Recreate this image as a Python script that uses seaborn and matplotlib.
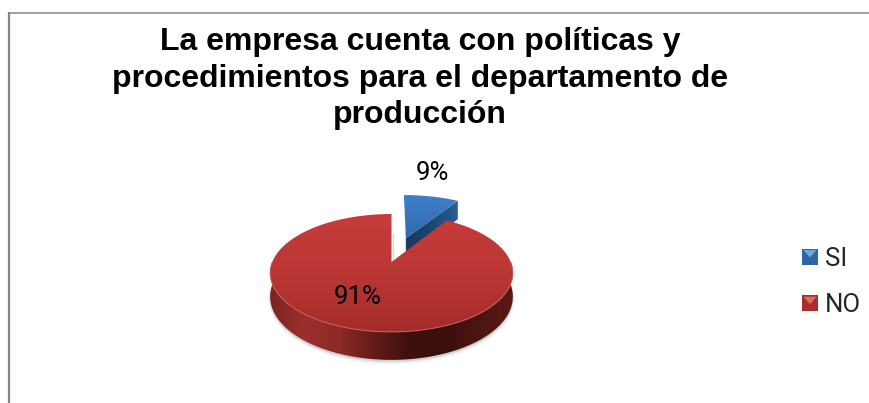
import numpy as np
import matplotlib
matplotlib.use("Agg")
import matplotlib.pyplot as plt
from matplotlib.legend_handler import HandlerBase
from matplotlib.patches import Patch, Polygon, Rectangle
from matplotlib.colors import LinearSegmentedColormap
import seaborn as sns

categories = ["SI", "NO"]
shares = [9, 91]
title_lines = ["La empresa cuenta con políticas y",
               "procedimientos para el departamento de",
               "producción"]

sns.set_theme(style="white")
plt.rcParams["font.family"] = ["Roboto", "DejaVu Sans"]

W, H = 870, 403
APEX_X, APEX_Y = 391.5, 262.0
SCALE_X, SCALE_Y, TILT, DEPTH = 119.2, 56.9, 0.186, 22.8
SI_SCALE = 1.05


def project(x, y, z=0.0):
    """Perspective view of a point on the pie disc, z = -1 being its underside."""
    w = 1 + TILT * np.asarray(y)
    return APEX_X + SCALE_X * np.asarray(x) / w, APEX_Y - (SCALE_Y * np.asarray(y) + DEPTH * z) / w


def gradient(ax, clip, stops, box, horizontal=False, z=1):
    cmap = LinearSegmentedColormap.from_list("g", stops)
    ramp = np.linspace(0, 1, 256)
    ramp = ramp[None, :] if horizontal else ramp[:, None]
    im = ax.imshow(ramp, cmap=cmap, extent=box, aspect="auto", zorder=z, interpolation="bilinear")
    im.set_clip_path(clip)
    return im


fig = plt.figure(figsize=(W / 100, H / 100), dpi=100)
fig.patch.set_facecolor("white")

# the pie is laid out once on the flat disc; its wedges supply angles and offsets
flat = fig.add_axes([0, 0, 0.1, 0.1])
wedges, _ = flat.pie(shares, startangle=90, counterclock=False, explode=[0.475, 0])
geometry = [(w.center, w.r, w.theta1, w.theta2) for w in wedges]
flat.remove()

ax = fig.add_axes([0, 0, 1, 1])
ax.set_xlim(0, W)
ax.set_ylim(H, 0)
ax.axis("off")


def arc(center, r, a0, a1, n=240):
    t = np.radians(np.linspace(a0, a1, n))
    return center[0] + r * np.cos(t), center[1] + r * np.sin(t)


def polygon(ax, xs, ys, **kw):
    p = Polygon(np.column_stack([xs, ys]), closed=True, transform=ax.transData, **kw)
    ax.add_patch(p)
    return p


# soft shadow under the red slice
(c_no, r_no, a0_no, a1_no) = geometry[1]
for grow, alpha in [(3.0, 0.025), (2.0, 0.04), (1.0, 0.05)]:
    sx, sy = arc(c_no, r_no, 180, 360)
    px, py = project(sx, sy, -1)
    polygon(ax, px, py + grow, fc="#000000", ec="#000000", lw=grow, alpha=alpha, zorder=0.5)

# SI slice
(c_si, r_si, a0_si, a1_si) = geometry[0]
r_si = r_si * SI_SCALE
ax_, ay_ = arc(c_si, r_si, a0_si, a1_si)
tx, ty = project(np.r_[c_si[0], ax_], np.r_[c_si[1], ay_])
cut = np.radians(min(a0_si, a1_si))
ex, ey = c_si[0] + r_si * np.cos(cut), c_si[1] + r_si * np.sin(cut)
q0x, q0y = project(np.array([c_si[0], ex]), np.array([c_si[1], ey]))
q1x, q1y = project(np.array([ex, c_si[0]]), np.array([ey, c_si[1]]), -1)
ax.plot([q0x[0] - 1.2] * 2, [ty.min() + 20, q1y[1]], color="#9a9a9a", lw=1.0, alpha=0.35, zorder=0.8)
side_si = polygon(ax, np.r_[q0x, q1x], np.r_[q0y, q1y], fc="none", ec="none", zorder=1)
gradient(ax, side_si, ["#17395f", "#1c4674", "#2a5f95"],
         (q0x.min(), q0x.max(), q1y.max(), q0y.min()), horizontal=True, z=1)
top_si = polygon(ax, tx, ty, fc="none", ec="none", zorder=1.2)
gradient(ax, top_si, ["#3f80cb", "#2f69aa"], (tx.min(), tx.max(), ty.max(), ty.min()), z=1.2)

# NO slice: front rim, then top face
fx, fy = arc(c_no, r_no, 180, 360)
bx, by = project(fx, fy, -1)
ux, uy = project(fx, fy)
side_no = polygon(ax, np.r_[ux, bx[::-1]], np.r_[uy, by[::-1]], fc="none", ec="none", zorder=2)
gradient(ax, side_no, ["#7e2320", "#98302c", "#8d2a26", "#641c18", "#3f100d", "#3a0f0c", "#4d1511", "#5a1a15"],
         (bx.min(), bx.max(), by.max(), uy.min()), horizontal=True, z=2)

ax_, ay_ = arc(c_no, r_no, a0_no, a1_no)
tx, ty = project(np.r_[c_no[0], ax_], np.r_[c_no[1], ay_])
ax.plot([APEX_X + 1.6] * 2, [ty.min() + 20, APEX_Y - 2], color="#9a9a9a", lw=1.0, alpha=0.35, zorder=2.5)
top_no = polygon(ax, tx, ty, fc="none", ec="none", zorder=3)
gradient(ax, top_no, ["#c63c3a", "#bb3735", "#a32c2a"], (tx.min(), tx.max(), ty.max(), ty.min()), z=3)
ax.plot(ux, uy, color="#c9625d", lw=0.7, zorder=3.2)

# percentage labels
ax.text(432, 173, f"{shares[0]}%", ha="center", va="center", fontsize=18.5, color="black", zorder=5)
ax.text(358, 297, f"{shares[1]}%", ha="center", va="center", fontsize=18.5, color="black", zorder=5)

# title
for line, y in zip(title_lines, [42, 79, 115]):
    ax.text(420, y, line, ha="center", va="center", fontsize=23, fontweight="bold",
            family=["Liberation Sans", "DejaVu Sans"], color="black", zorder=5)


class GlossyKey(HandlerBase):
    """Legend key: a square with a pale triangle folded down from its top edge."""

    def __init__(self, face, shine):
        super().__init__()
        self.face, self.shine = face, shine

    def create_artists(self, legend, handle, x0, y0, width, height, fontsize, trans):
        side = 11.5
        y = y0 + (height - side) / 2
        square = Rectangle((x0, y), side, side, fc=self.face, ec="none", transform=trans)
        fold = Polygon([(x0 + 1, y + side - 1), (x0 + side - 1, y + side - 1), (x0 + side / 2, y + side * 0.45)],
                       fc=self.shine, ec="none", transform=trans)
        return [square, fold]


keys = [Patch(label=c) for c in categories]
legend = ax.legend(keys, categories, loc="center left", bbox_to_anchor=(802 / W, 1 - 282 / H),
                   frameon=False, fontsize=18.5, labelspacing=0.88, handlelength=0.62, handletextpad=0.27,
                   borderpad=0, borderaxespad=0,
                   handler_map={keys[0]: GlossyKey("#2f66a6", "#6aa9e6"),
                                keys[1]: GlossyKey("#a82e2c", "#e06a66")})

# chart frame: left and top edges only
ax.plot((9, 9), (12, H), color="#868686", lw=1.6, zorder=6, solid_capstyle="butt")
ax.plot((8, W), (13, 13), color="#868686", lw=1.1, zorder=6, solid_capstyle="butt")

fig.savefig("out.png", dpi=100)
